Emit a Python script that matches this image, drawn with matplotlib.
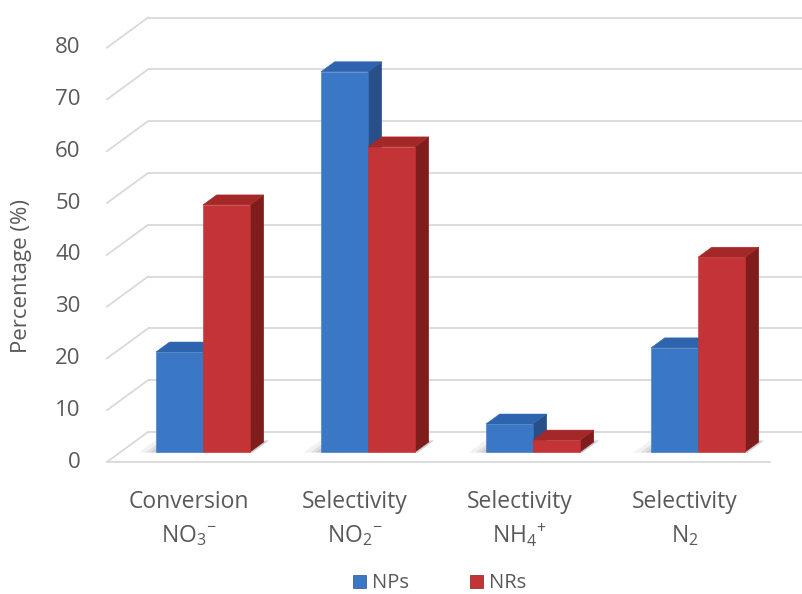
import matplotlib
matplotlib.use("Agg")
import matplotlib.pyplot as plt
from matplotlib.patches import Polygon, Patch

# ---- data -------------------------------------------------------------
categories = [
    "Conversion\nNO$_\\mathregular{3}$$^\\mathregular{-}$",
    "Selectivity\nNO$_\\mathregular{2}$$^\\mathregular{-}$",
    "Selectivity\nNH$_\\mathregular{4}$$^\\mathregular{+}$",
    "Selectivity\nN$_\\mathregular{2}$",
]
series_names = ["NPs", "NRs"]
nps_values = [19.3, 73.4, 5.4, 20.1]
nrs_values = [47.7, 58.9, 2.3, 37.6]
y_ticks = [0, 10, 20, 30, 40, 50, 60, 70, 80]
y_label = "Percentage (%)"

# ---- style ------------------------------------------------------------
plt.rcParams["font.family"] = ["Open Sans", "DejaVu Sans"]
plt.rcParams["mathtext.fontset"] = "custom"
plt.rcParams["mathtext.rm"] = "Open Sans"
plt.rcParams["mathtext.it"] = "Open Sans"
TEXT = "#595959"
GRID = "#d9d9d9"
FACE = {  # front, top, side
    "NPs": ("#3a78c6", "#2e63ad", "#284f88"),
    "NRs": ("#c43436", "#a52829", "#7f1d1d"),
}

# oblique projection: full floor depth moves a point right and up
DX, DY = 0.2485, 5.79
BAR_W = 0.285          # width of one column in category units
BAR_DEPTH = 1 / 3      # columns occupy the middle third of the floor
FRONT, BACK = -1 / 3, 2 / 3
X_LEFT, X_RIGHT = -0.499, 3.519


def proj(x, v, d):
    return (x + d * DX, v + d * DY)


fig = plt.figure(figsize=(8.02, 5.94), dpi=100)
ax = fig.add_axes([0, 0, 1, 1])
ax.set_xlim(-1.230, 3.630)
ax.set_ylim(-27.41, 87.26)
ax.axis("off")

# walls: back gridlines, side-wall diagonals, front floor edge
for v in y_ticks:
    bx, by = proj(X_LEFT, v, BACK)
    ax.plot([bx, 4.0], [by, by], color=GRID, lw=1.3, zorder=1, solid_capstyle="butt")
    fx, fy = proj(X_LEFT, v, FRONT)
    ax.plot([fx, bx], [fy, by], color=GRID, lw=1.3, zorder=1)
    ax.annotate(str(v), (fx, fy), xytext=(-19, 0), textcoords="offset points",
                ha="right", va="center", fontsize=16, color=TEXT)

fx0, fy0 = proj(X_LEFT, 0, FRONT)
fx1, _ = proj(X_RIGHT, 0, FRONT)
ax.plot([fx0, fx1], [fy0, fy0], color=GRID, lw=1.3, zorder=1)


def shadow(x0, x1, z):
    # soft floor shadow at the base of a column pair
    for k, a in ((0.10, 0.05), (0.06, 0.07), (0.03, 0.08)):
        pts = [proj(x0 - k, 0, -0.02), proj(x1 + 0.02, 0, -0.02),
               proj(x1 + 0.02, 0, BAR_DEPTH + 0.05), proj(x0 - k, 0, BAR_DEPTH + 0.05)]
        ax.add_patch(Polygon(pts, closed=True, facecolor="black", edgecolor="none",
                             alpha=a, zorder=z))


def column(x0, value, name, z):
    front, top, side = FACE[name]
    x1 = x0 + BAR_W
    d = BAR_DEPTH
    f = [proj(x0, 0, 0), proj(x1, 0, 0), proj(x1, value, 0), proj(x0, value, 0)]
    t = [proj(x0, value, 0), proj(x1, value, 0), proj(x1, value, d), proj(x0, value, d)]
    s = [proj(x1, 0, 0), proj(x1, 0, d), proj(x1, value, d), proj(x1, value, 0)]
    for poly, col in ((s, side), (t, top), (f, front)):
        ax.add_patch(Polygon(poly, closed=True, facecolor=col, edgecolor=col,
                             lw=0.4, zorder=z))


z = 3
for i, (a, b) in enumerate(zip(nps_values, nrs_values)):
    shadow(i - BAR_W, i + BAR_W, 2)
    column(i - BAR_W, a, "NPs", z)
    column(i, b, "NRs", z + 1)
    z += 2

# category labels along the front floor edge
for i, lab in enumerate(categories):
    x, y = proj(i, 0, FRONT)
    first, second = lab.split("\n")
    ax.annotate(first, (x, y), xytext=(0, -29), textcoords="offset points",
                ha="center", va="center", fontsize=16.5, color=TEXT)
    ax.annotate(second, (x, y), xytext=(0, -53), textcoords="offset points",
                ha="center", va="center", fontsize=16.5, color=TEXT)

ax.text(0.027, 0.535, y_label, transform=ax.transAxes, rotation=90,
        ha="center", va="center", fontsize=16, color=TEXT)

handles = [Patch(facecolor=FACE[n][0], edgecolor=FACE[n][2], lw=0.5) for n in series_names]
fig.legend(handles, series_names, loc="center", bbox_to_anchor=(0.548, 0.018),
           ncol=2, frameon=False, fontsize=14.5, labelcolor=TEXT,
           handlelength=0.65, handleheight=0.65, handletextpad=0.3, columnspacing=3.0)

fig.savefig("out.png", dpi=100, facecolor="white")
